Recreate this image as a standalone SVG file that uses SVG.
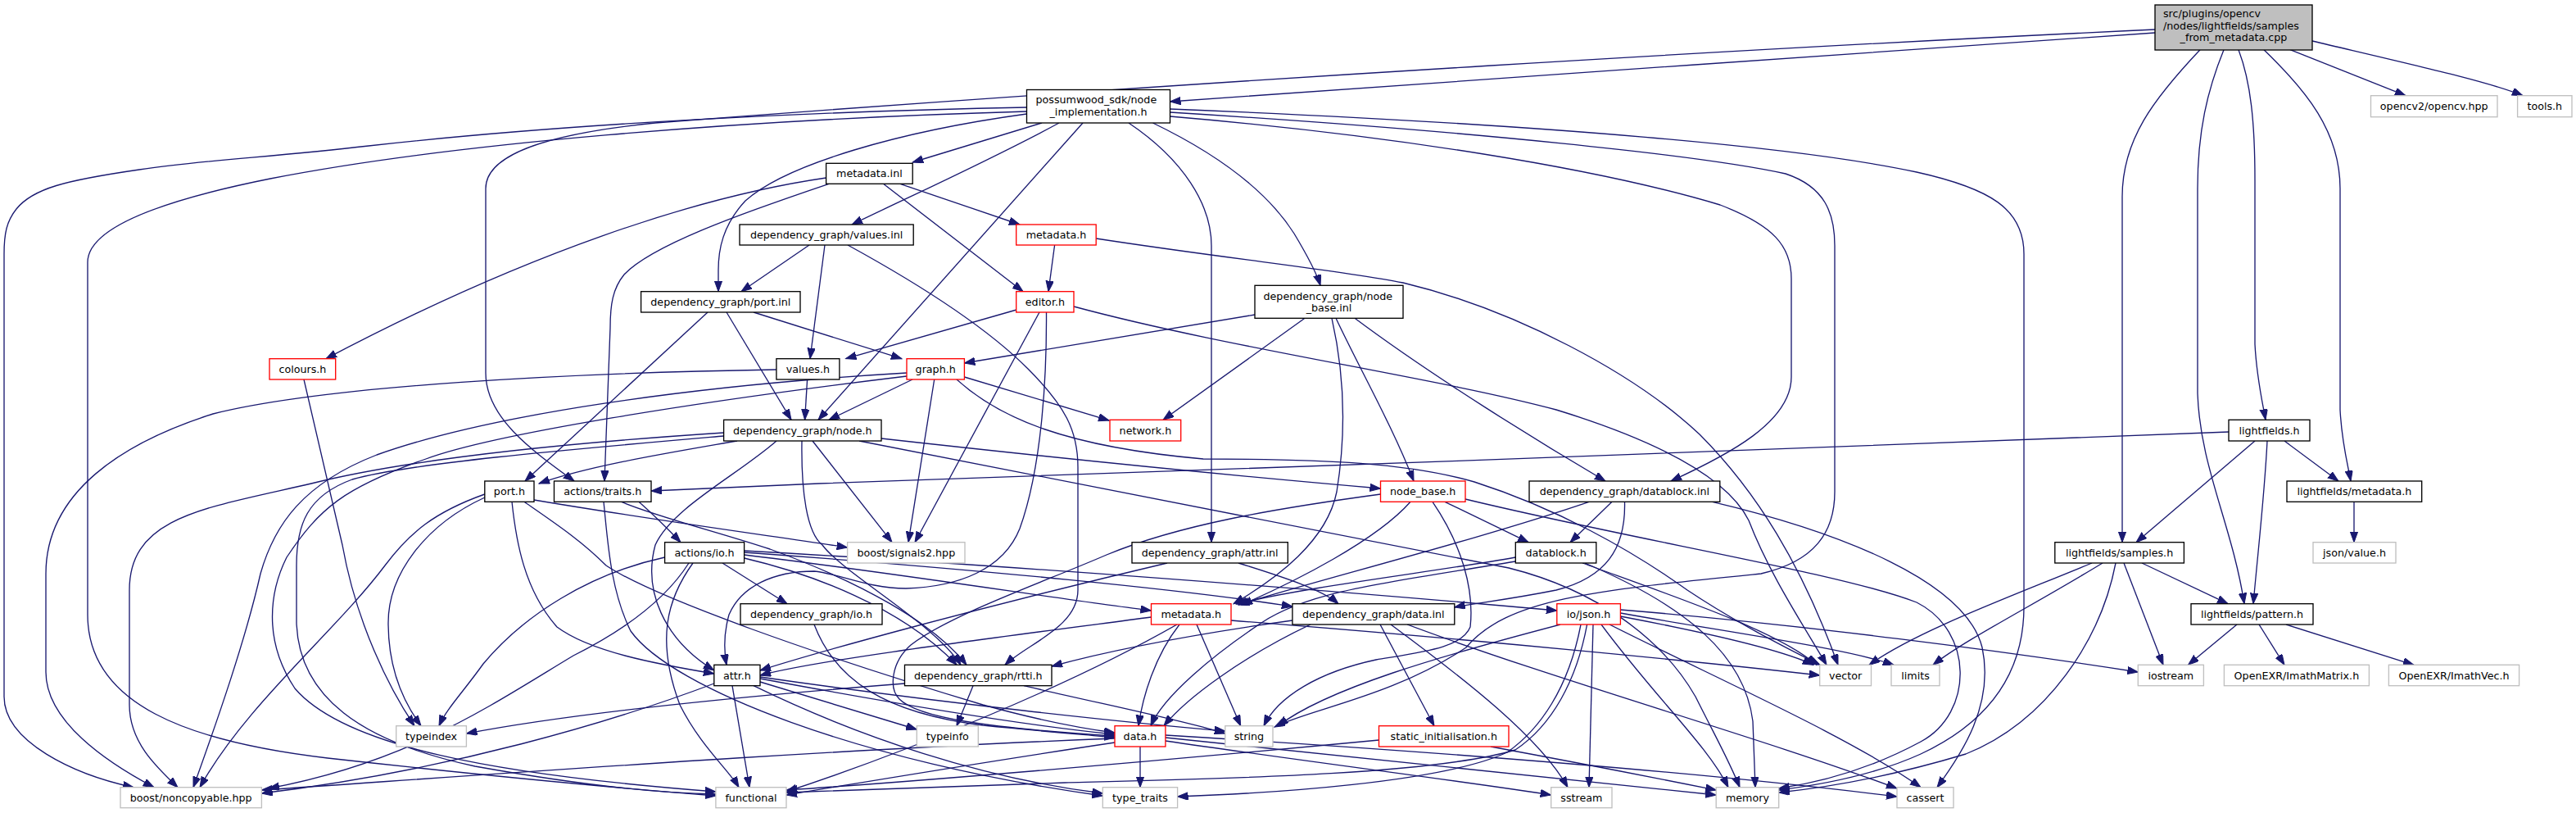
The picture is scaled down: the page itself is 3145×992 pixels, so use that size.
<svg xmlns="http://www.w3.org/2000/svg" width="3145" height="992" viewBox="0 0 3145 992">
<style>
.e{fill:none;stroke:#191970;stroke-width:1.33;marker-end:url(#a)}
.d{fill:#fff;stroke:#000;stroke-width:1.33}
.r{fill:#fff;stroke:#ff0000;stroke-width:1.33}
.x{fill:#fff;stroke:#bfbfbf;stroke-width:1.33}
.root{fill:#bfbfbf;stroke:#000;stroke-width:1.33}
text{font-family:"DejaVu Sans","Liberation Sans",sans-serif;font-size:12.7px;fill:#000;text-anchor:middle}
.s{text-anchor:start}
</style>
<defs>
<marker id="a" markerUnits="userSpaceOnUse" markerWidth="14" markerHeight="10" refX="13" refY="4.7" orient="auto">
<path d="M0,0 L13,4.7 L0,9.4 z" fill="#191970" stroke="#191970" stroke-width="1"/>
</marker>
</defs>
<rect width="3145" height="992" fill="#fff"/>
<g id="edges">
<path class="e" d="M2631,40 C2250,66 1800,98 1428.5,124"/>
<path class="e" d="M2631,36 C2200,56 1500,96 800,150 C680,162 593,185 593,230 L593,455 C593,510 650,550 701,587"/>
<path class="e" d="M2686,60.7 C2630,120 2591,170 2591,240 L2591,661.7"/>
<path class="e" d="M2715,60.7 C2695,110 2683,160 2683,230 L2683,480 C2686,570 2725,640 2740,736.7"/>
<path class="e" d="M2733,60.7 C2748,100 2753,150 2753,220 L2753,420 C2755,460 2762,490 2766,512.3"/>
<path class="e" d="M2764,60.7 C2815,110 2857,160 2857,230 L2857,500 C2859,540 2866,565 2870,587"/>
<path class="e" d="M2796,60.7 L2937,116.7"/>
<path class="e" d="M2823,50 C2950,80 3040,100 3080,116.7"/>
<path class="e" d="M1253.5,131 C1000,136 700,150 450,178 C330,192 250,195 170,207 C80,220 40,230 20,255 C8,270 5,285 5,310 L5,850 C5,905 90,945 163,960.7"/>
<path class="e" d="M1253.5,136 C900,146 550,175 330,218 C170,250 107,285 107,320 L107,750 C107,860 230,905 400,925 C580,945 760,962 873.9,971"/>
<path class="e" d="M1253.5,139 C1100,160 960,200 910,245 C882,275 877,305 877,330 L877,355.7"/>
<path class="e" d="M1272,150 L1114.2,198"/>
<path class="e" d="M1293,150 C1210,195 1110,240 1040,274"/>
<path class="e" d="M1322,150 L999,512.3"/>
<path class="e" d="M1378,150 C1445,195 1479,250 1479,300 L1479,661.7"/>
<path class="e" d="M1407.5,150 C1480,185 1545,230 1580,285 C1598,315 1608,335 1612,348.3"/>
<path class="e" d="M1428.5,133 C1900,152 2200,180 2340,210 C2430,230 2471,255 2471,310 L2471,740 C2471,830 2420,885 2345,920 C2290,945 2220,958 2171.7,964"/>
<path class="e" d="M1428.5,137 C1800,160 2080,190 2180,212 C2228,228 2240,260 2240,300 L2240,600 C2240,650 2215,685 2150,700 C1950,720 1840,730 1790,790 C1700,850 1600,865 1556,887"/>
<path class="e" d="M1428.5,142 C1700,165 1950,205 2100,250 C2165,275 2187,300 2187,340 L2187,460 C2187,515 2110,555 2040,587"/>
<path class="e" d="M1008.6,217 C850,240 640,310 398,437.7"/>
<path class="e" d="M1012,224.3 C900,262 795,300 762,335 C748,352 745,372 745,400 L738,587"/>
<path class="e" d="M1078.5,224.3 L1249,355.7"/>
<path class="e" d="M1099,224.3 L1245,274"/>
<path class="e" d="M988,299 L905,355.7"/>
<path class="e" d="M1007,299 L989,437.7"/>
<path class="e" d="M1035,299 C1110,340 1200,395 1255,450 C1300,495 1316,525 1316,570 L1316,720 C1316,765 1255,785 1227,811.3"/>
<path class="e" d="M1287.6,299 L1280,355.7"/>
<path class="e" d="M1338.2,291 C1500,316 1640,330 1713,345 C1850,378 1995,455 2075,530 C2145,600 2200,690 2244,811.3"/>
<path class="e" d="M864,381 L641,587"/>
<path class="e" d="M887,381 L966,512.3"/>
<path class="e" d="M920,381 L1101,437.7"/>
<path class="e" d="M1241,378 L1032.6,437.7"/>
<path class="e" d="M1269,381 L1117,661.7"/>
<path class="e" d="M1277.5,381 C1278,460 1272,570 1245,645 C1225,695 1170,716 1106,718 C1060,718 1025,700 994,697 C945,697 905,715 890,750 C883,775 884,795 887,811.3"/>
<path class="e" d="M1311,374 C1500,425 1750,460 1900,500 C2030,540 2110,585 2135,635 C2160,700 2200,760 2230,811.3"/>
<path class="e" d="M1532,384 L1177.4,443"/>
<path class="e" d="M1593,388.3 L1420,512.3"/>
<path class="e" d="M1631,388.3 C1660,450 1700,520 1726,587"/>
<path class="e" d="M1654,388.3 C1750,460 1880,540 1960,587"/>
<path class="e" d="M1626,388.3 C1640,450 1645,520 1632,600 C1620,660 1560,705 1506,736.7"/>
<path class="e" d="M371,463 L418,665 C435,760 475,840 506,885.7"/>
<path class="e" d="M947.9,451 C700,455 400,470 260,505 C150,540 56,600 56,700 L56,820 C56,880 130,930 188,960.7"/>
<path class="e" d="M985.6,463 L982.6,512.3"/>
<path class="e" d="M1114,463 L1012,512.3"/>
<path class="e" d="M1140.7,463 L1109,661.7"/>
<path class="e" d="M1177.4,460 L1354,513"/>
<path class="e" d="M1107,455 C850,470 600,505 460,555 C370,590 335,640 318,700 C300,780 265,880 236,960.7"/>
<path class="e" d="M1107,459 C850,490 600,530 520,560 C420,595 390,620 350,680 C330,720 320,780 360,840 C420,910 600,945 873.9,966"/>
<path class="e" d="M1168,463 C1220,510 1300,545 1469,560 C1620,560 1720,565 1800,588 C1900,620 1990,670 2060,720 C2120,760 2180,790 2222,811.3"/>
<path class="e" d="M900,538 C820,552 720,568 658,590"/>
<path class="e" d="M883.6,528 C700,540 500,560 380,590 C250,620 158,630 158,720 L158,860 C158,905 190,935 217,960.7"/>
<path class="e" d="M883.6,532 C700,548 500,565 430,585 C375,605 362,640 362,690 L362,760 C365,850 440,905 580,935 C720,960 810,968 873.9,969"/>
<path class="e" d="M992,538 L1089,661.7"/>
<path class="e" d="M1076,535 C1300,560 1500,580 1685.5,596"/>
<path class="e" d="M1049,538 L1842,693 C1950,720 2030,780 2070,850 C2095,900 2112,930 2124,960.7"/>
<path class="e" d="M948,538 C900,580 820,620 800,665 C785,720 810,780 871.8,818"/>
<path class="e" d="M979,538 C978,600 985,650 1004,665 C1030,700 1140,760 1173,811.3"/>
<path class="e" d="M652,610 C800,635 950,655 1034.6,668"/>
<path class="e" d="M591.8,603 C530,625 500,650 470,690 C410,770 300,860 244,960.7"/>
<path class="e" d="M591.8,607 C520,640 474,700 474,760 C474,820 495,860 514,885.7"/>
<path class="e" d="M625,612.3 C630,660 640,720 680,765 C720,795 800,810 871.8,822"/>
<path class="e" d="M640,612.3 C680,640 710,660 740,690 C800,730 1000,800 1200,860 C1280,882 1330,890 1361,894"/>
<path class="e" d="M780,612.3 C800,630 815,645 831,661.7"/>
<path class="e" d="M758.7,612.3 C800,630 880,650 940,670 C1050,710 1140,760 1180,811.3"/>
<path class="e" d="M737,612.3 C742,660 745,720 770,770 C820,840 1050,930 1346.3,971"/>
<path class="e" d="M882,687 L961,736.7"/>
<path class="e" d="M908.6,677 C1100,700 1300,732 1405.5,745"/>
<path class="e" d="M908.6,672 C1200,688 1600,718 1900.8,745"/>
<path class="e" d="M908.6,674 C1200,695 1450,720 1577.9,740"/>
<path class="e" d="M908.6,681 C990,700 1100,740 1168,811.3"/>
<path class="e" d="M841,687 C820,720 780,760 700,800 C600,860 500,930 328,962"/>
<path class="e" d="M846,687 C815,730 800,780 830,860 C855,910 890,940 902,960.7"/>
<path class="e" d="M811.6,680 C720,700 640,750 590,810 C565,845 545,865 536,885.7"/>
<path class="e" d="M1425,687 C1200,740 1000,795 928,818"/>
<path class="e" d="M1512,687 C1570,705 1615,720 1634,736.7"/>
<path class="e" d="M1968,612.3 L1917,661.7"/>
<path class="e" d="M1940,612.3 C1800,660 1600,710 1512,738"/>
<path class="e" d="M2090.6,612.3 C2250,650 2400,710 2420,790 C2435,860 2395,920 2365,960.7"/>
<path class="e" d="M1983.5,612.3 C1985,670 1960,705 1900,720 C1840,732 1800,736 1775.8,741"/>
<path class="e" d="M1764,612.3 L1866,661.7"/>
<path class="e" d="M1685.5,603 C1560,620 1440,640 1351,677 C1270,712 1160,750 1112,787 C1088,808 1085,840 1098,853 C1120,875 1200,888 1361,898"/>
<path class="e" d="M1722,612.3 C1680,660 1580,710 1516,738"/>
<path class="e" d="M1749,612.3 C1785,665 1800,720 1795,765 C1785,790 1740,795 1680,805 C1610,820 1560,850 1543,885.7"/>
<path class="e" d="M1789,609 C2000,660 2250,700 2340,735 C2410,770 2410,870 2345,905 C2280,940 2220,955 2171.7,962"/>
<path class="e" d="M1850.3,680 C1750,698 1600,715 1509,737"/>
<path class="e" d="M1850.3,685 C1700,710 1600,720 1540,760 C1480,800 1420,850 1405,885.7"/>
<path class="e" d="M1932,687 C2050,730 2170,770 2218,811.3"/>
<path class="e" d="M1935,687 C2060,740 2130,800 2140,880 L2143,960.7"/>
<path class="e" d="M1600,762 C1520,800 1450,850 1421,885.7"/>
<path class="e" d="M1577.9,757 C1450,775 1350,795 1284,813"/>
<path class="e" d="M1685,762 L1751,885.7"/>
<path class="e" d="M1698,762 C1790,830 1880,900 1914,960.7"/>
<path class="e" d="M1718,762 C1900,830 2150,900 2316,962"/>
<path class="e" d="M1405.5,753 C1200,780 1000,805 928,824"/>
<path class="e" d="M1440,762 C1410,800 1395,850 1390,885.7"/>
<path class="e" d="M1461,762 L1514.7,885.7"/>
<path class="e" d="M1437,762 C1300,840 1100,920 960,966"/>
<path class="e" d="M1503,757 C1800,780 2100,810 2221.7,824"/>
<path class="e" d="M1188,836.7 L1168,885.7"/>
<path class="e" d="M1250,836.7 C1350,860 1450,880 1495.8,895"/>
<path class="e" d="M1104.5,834 C900,850 700,870 569.4,895"/>
<path class="e" d="M928,832 L1119.3,890"/>
<path class="e" d="M928,828 C1100,860 1250,885 1361,896"/>
<path class="e" d="M928,826 C1150,858 1380,882 1495.8,892"/>
<path class="e" d="M920,836.7 C1050,900 1200,950 1346.3,968"/>
<path class="e" d="M894,836.7 L915,960.7"/>
<path class="e" d="M871.8,834 C750,880 550,940 319.4,968"/>
<path class="e" d="M1392,911 L1392,960.7"/>
<path class="e" d="M1361,906 C1200,930 1050,955 960,970"/>
<path class="e" d="M1361,901 C1000,915 600,945 319.4,964"/>
<path class="e" d="M1422.9,900 C1700,930 1900,950 2095.2,970"/>
<path class="e" d="M1422.9,904 C1600,930 1800,955 1893.7,970"/>
<path class="e" d="M1422.9,897 C1800,920 2100,945 2316,972"/>
<path class="e" d="M1683.5,903 C1400,930 1100,955 960,964"/>
<path class="e" d="M1820,911 C1950,935 2050,955 2095.2,964"/>
<path class="e" d="M1905,762 C1760,800 1620,840 1560,886"/>
<path class="e" d="M1945,762 L1940,960.7"/>
<path class="e" d="M1955,762 C2020,850 2085,910 2110,960.7"/>
<path class="e" d="M1965,762 C2100,830 2260,900 2345,960.7"/>
<path class="e" d="M1978.4,752 C2100,775 2180,795 2214,811.3"/>
<path class="e" d="M1978.4,748 C2100,770 2250,790 2312,811.3"/>
<path class="e" d="M1978.4,744 C2200,762 2450,795 2610.3,820"/>
<path class="e" d="M1937.6,762 C1925,830 1895,885 1850,915 C1750,945 1500,950 1300,955 C1150,960 1020,965 960,967"/>
<path class="e" d="M1930,762 C1915,840 1880,890 1840,918 C1760,955 1550,968 1437.6,972"/>
<path class="e" d="M2721,527 C2300,545 1500,572 1000,590 C900,594 830,597 795,599"/>
<path class="e" d="M2753,538 L2608,661.7"/>
<path class="e" d="M2789,538 L2855,587"/>
<path class="e" d="M2768,538 C2765,600 2758,660 2751,736.7"/>
<path class="e" d="M2874,612.3 L2874,661.7"/>
<path class="e" d="M2731,762 L2671.5,811.3"/>
<path class="e" d="M2758,762 L2789,811.3"/>
<path class="e" d="M2791,762 L2947,811.3"/>
<path class="e" d="M2554,687 C2450,730 2340,770 2282,811.3"/>
<path class="e" d="M2567,687 C2480,740 2400,780 2360,811.3"/>
<path class="e" d="M2583,687 C2565,780 2500,880 2400,920 C2300,950 2220,962 2171.7,967"/>
<path class="e" d="M2593,687 L2641,811.3"/>
<path class="e" d="M2615,687 L2720,736.7"/>
<path class="e" d="M994,762 C1020,830 1080,870 1200,885 C1280,893 1330,897 1361,900"/>
</g>
<g id="n_root"><rect class="root" x="2631" y="6" width="192" height="55"/><text class="s" x="2641" y="21">src/plugins/opencv</text><text class="s" x="2641" y="35.7">/nodes/lightfields/samples</text><text x="2727" y="50.3">_from_metadata.cpp</text></g>
<g id="n_node_impl"><rect class="d" x="1253.5" y="109.5" width="175" height="40.5"/><text class="s" x="1264.5" y="126">possumwood_sdk/node</text><text x="1341" y="141">_implementation.h</text></g>
<g id="n_opencv"><rect class="x" x="2894.5" y="116.7" width="154.5" height="26"/><text x="2971.75" y="134.2">opencv2/opencv.hpp</text></g>
<g id="n_tools"><rect class="x" x="3073.6" y="116.7" width="66.4" height="26"/><text x="3106.8" y="134.2">tools.h</text></g>
<g id="n_metadata_inl"><rect class="d" x="1008.6" y="199.3" width="105.6" height="25"/><text x="1061.4" y="216.3">metadata.inl</text></g>
<g id="n_values_inl"><rect class="d" x="903" y="274" width="212.2" height="25"/><text x="1009.1" y="291">dependency_graph/values.inl</text></g>
<g id="n_metadata_h1"><rect class="r" x="1240.7" y="274" width="97.5" height="25"/><text x="1289.5" y="291">metadata.h</text></g>
<g id="n_port_inl"><rect class="d" x="782.6" y="355.7" width="194.4" height="25.3"/><text x="879.8" y="372.8">dependency_graph/port.inl</text></g>
<g id="n_editor"><rect class="r" x="1240.7" y="355.7" width="70.3" height="25.3"/><text x="1275.9" y="372.8">editor.h</text></g>
<g id="n_node_base_inl"><rect class="d" x="1532" y="348.3" width="181" height="40"/><text class="s" x="1542.5" y="365.5">dependency_graph/node</text><text x="1622.5" y="380">_base.inl</text></g>
<g id="n_colours"><rect class="r" x="329" y="437.7" width="80.7" height="25.3"/><text x="369.4" y="454.8">colours.h</text></g>
<g id="n_values_h"><rect class="d" x="947.9" y="437.7" width="77" height="25.3"/><text x="986.4" y="454.8">values.h</text></g>
<g id="n_graph"><rect class="r" x="1107" y="437.7" width="70.4" height="25.3"/><text x="1142.2" y="454.8">graph.h</text></g>
<g id="n_node_h"><rect class="d" x="883.6" y="512.3" width="192.4" height="25.7"/><text x="979.8" y="529.6">dependency_graph/node.h</text></g>
<g id="n_network"><rect class="r" x="1355" y="512.3" width="86.7" height="25.7"/><text x="1398.4" y="529.6">network.h</text></g>
<g id="n_lightfields"><rect class="d" x="2721" y="512.3" width="99" height="25.7"/><text x="2770.5" y="529.6">lightfields.h</text></g>
<g id="n_port_h"><rect class="d" x="591.8" y="587" width="60.2" height="25.3"/><text x="621.9" y="604.2">port.h</text></g>
<g id="n_traits"><rect class="d" x="676.5" y="587" width="118.5" height="25.3"/><text x="735.75" y="604.2">actions/traits.h</text></g>
<g id="n_node_base_h"><rect class="r" x="1685.5" y="587" width="103.5" height="25.3"/><text x="1737.25" y="604.2">node_base.h</text></g>
<g id="n_datablock_inl"><rect class="d" x="1867" y="587" width="232.8" height="25.3"/><text x="1983.4" y="604.2">dependency_graph/datablock.inl</text></g>
<g id="n_lf_metadata"><rect class="d" x="2792" y="587" width="164.7" height="25.3"/><text x="2874.4" y="604.2">lightfields/metadata.h</text></g>
<g id="n_actions_io"><rect class="d" x="811.6" y="661.7" width="97" height="25.3"/><text x="860.1" y="678.8">actions/io.h</text></g>
<g id="n_signals2"><rect class="x" x="1034.6" y="661.7" width="143.4" height="25.3"/><text x="1106.3" y="678.8">boost/signals2.hpp</text></g>
<g id="n_attr_inl"><rect class="d" x="1382" y="661.7" width="190.3" height="25.3"/><text x="1477.15" y="678.8">dependency_graph/attr.inl</text></g>
<g id="n_datablock_h"><rect class="d" x="1850.3" y="661.7" width="98.5" height="25.3"/><text x="1899.55" y="678.8">datablock.h</text></g>
<g id="n_samples"><rect class="d" x="2508.8" y="661.7" width="157.6" height="25.3"/><text x="2587.6" y="678.8">lightfields/samples.h</text></g>
<g id="n_json_value"><rect class="x" x="2824" y="661.7" width="101" height="25.3"/><text x="2874.5" y="678.8">json/value.h</text></g>
<g id="n_dg_io"><rect class="d" x="904" y="736.7" width="173" height="25.3"/><text x="990.5" y="753.8">dependency_graph/io.h</text></g>
<g id="n_metadata_h2"><rect class="r" x="1405.5" y="736.7" width="97.5" height="25.3"/><text x="1454.25" y="753.8">metadata.h</text></g>
<g id="n_data_inl"><rect class="d" x="1577.9" y="736.7" width="197.9" height="25.3"/><text x="1676.85" y="753.8">dependency_graph/data.inl</text></g>
<g id="n_io_json"><rect class="r" x="1900.8" y="736.7" width="77.6" height="25.3"/><text x="1939.6" y="753.8">io/json.h</text></g>
<g id="n_pattern"><rect class="d" x="2675" y="736.7" width="149" height="25.3"/><text x="2749.5" y="753.8">lightfields/pattern.h</text></g>
<g id="n_attr_h"><rect class="d" x="871.8" y="811.3" width="56.2" height="25.4"/><text x="899.9" y="828.5">attr.h</text></g>
<g id="n_rtti"><rect class="d" x="1104.5" y="811.3" width="179.5" height="25.4"/><text x="1194.25" y="828.5">dependency_graph/rtti.h</text></g>
<g id="n_vector"><rect class="x" x="2221.7" y="811.3" width="62.8" height="25.4"/><text x="2253.1" y="828.5">vector</text></g>
<g id="n_limits"><rect class="x" x="2309" y="811.3" width="59" height="25.4"/><text x="2338.5" y="828.5">limits</text></g>
<g id="n_iostream"><rect class="x" x="2610.3" y="811.3" width="80.1" height="25.4"/><text x="2650.35" y="828.5">iostream</text></g>
<g id="n_imathmatrix"><rect class="x" x="2715.4" y="811.3" width="177" height="25.4"/><text x="2803.9" y="828.5">OpenEXR/ImathMatrix.h</text></g>
<g id="n_imathvec"><rect class="x" x="2916.4" y="811.3" width="159.2" height="25.4"/><text x="2996" y="828.5">OpenEXR/ImathVec.h</text></g>
<g id="n_typeindex"><rect class="x" x="483.7" y="885.7" width="85.7" height="25.3"/><text x="526.55" y="902.8">typeindex</text></g>
<g id="n_typeinfo"><rect class="x" x="1119.3" y="885.7" width="75" height="25.3"/><text x="1156.8" y="902.8">typeinfo</text></g>
<g id="n_data_h"><rect class="r" x="1361" y="885.7" width="61.9" height="25.3"/><text x="1391.95" y="902.8">data.h</text></g>
<g id="n_string"><rect class="x" x="1495.8" y="885.7" width="58.2" height="25.3"/><text x="1524.9" y="902.8">string</text></g>
<g id="n_static_init"><rect class="r" x="1683.5" y="885.7" width="158.5" height="25.3"/><text x="1762.75" y="902.8">static_initialisation.h</text></g>
<g id="n_noncopyable"><rect class="x" x="147" y="960.7" width="172.4" height="25"/><text x="233.2" y="977.7">boost/noncopyable.hpp</text></g>
<g id="n_functional"><rect class="x" x="873.9" y="960.7" width="86.1" height="25"/><text x="916.95" y="977.7">functional</text></g>
<g id="n_type_traits"><rect class="x" x="1346.3" y="960.7" width="91.3" height="25"/><text x="1392" y="977.7">type_traits</text></g>
<g id="n_sstream"><rect class="x" x="1893.7" y="960.7" width="74.3" height="25"/><text x="1930.85" y="977.7">sstream</text></g>
<g id="n_memory"><rect class="x" x="2095.2" y="960.7" width="76.5" height="25"/><text x="2133.45" y="977.7">memory</text></g>
<g id="n_cassert"><rect class="x" x="2316" y="960.7" width="69" height="25"/><text x="2350.5" y="977.7">cassert</text></g>
</svg>
